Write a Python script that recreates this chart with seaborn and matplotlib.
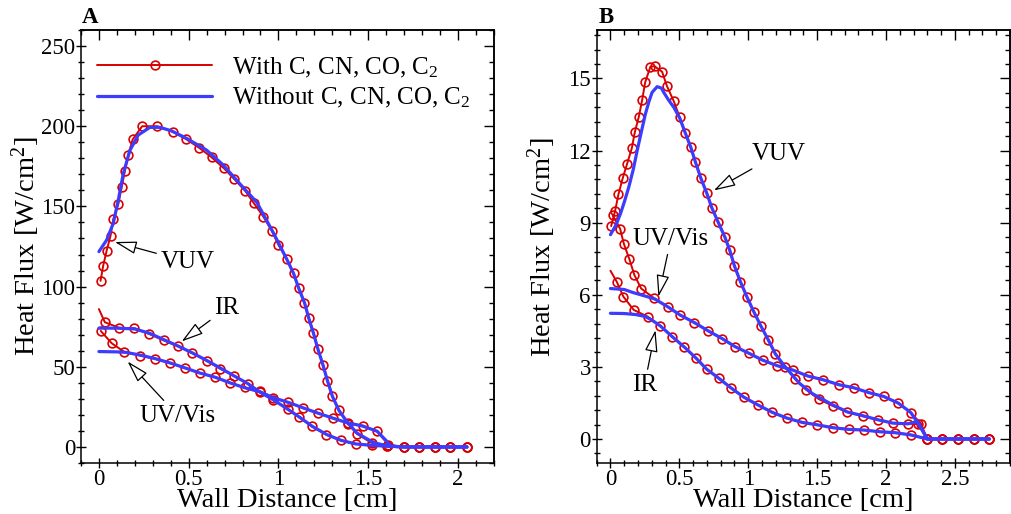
import numpy as np
import pandas as pd
import seaborn as sns
import matplotlib
matplotlib.use("Agg")
import matplotlib.pyplot as plt
from matplotlib.ticker import MultipleLocator, FuncFormatter
from matplotlib.lines import Line2D

# ---------------- data: panel A ----------------
A_vuv_with_x = [0.009, 0.024, 0.043, 0.065, 0.080, 0.108, 0.127, 0.145, 0.163, 0.188, 0.241, 0.325, 0.411,
                0.485, 0.558, 0.628, 0.697, 0.755, 0.814, 0.864, 0.916, 0.963, 1.000, 1.046, 1.084, 1.113,
                1.145, 1.169, 1.195, 1.220, 1.248, 1.273, 1.301, 1.337, 1.385, 1.440, 1.520, 1.604, 1.697,
                1.784, 1.870, 1.957, 2.050]
A_vuv_with_y = [103.6, 113.1, 122.4, 131.8, 142.0, 151.5, 161.9, 172.2, 182.0, 191.8, 200.0, 200.0, 196.5,
                192.0, 186.6, 180.6, 173.7, 166.9, 159.8, 151.9, 143.6, 134.9, 126.0, 117.2, 108.3, 99.0,
                90.0, 80.3, 71.0, 61.0, 51.2, 41.3, 31.5, 22.8, 14.5, 8.0, 2.5, 0.5, 0, 0, 0, 0, 0]
A_vuv_wo_x = [0.0, 0.043, 0.08, 0.108, 0.136, 0.173, 0.219, 0.284, 0.34, 0.405, 0.489, 0.60, 0.693, 0.786,
              0.88, 0.972, 1.046, 1.084, 1.113, 1.145, 1.169, 1.195, 1.22, 1.248, 1.273, 1.301, 1.337,
              1.381, 1.437, 1.53, 1.61, 1.70, 2.05]
A_vuv_wo_y = [121.8, 129.0, 139.5, 154.0, 170.6, 185.0, 194.5, 199.3, 199.3, 197.1, 192.4, 185.1, 175.8,
              164.0, 152.5, 133.5, 117.2, 108.3, 99.0, 90.0, 80.3, 71.0, 61.0, 51.2, 41.3, 31.5, 22.8,
              15.9, 8.7, 2.7, 0.6, 0.0, 0.0]

A_ir_with_x = [0.0, 0.033, 0.113, 0.197, 0.281, 0.362, 0.442, 0.52, 0.60, 0.675, 0.753, 0.829, 0.898, 0.972,
               1.052, 1.117, 1.186, 1.266, 1.348, 1.433, 1.521, 1.604, 1.697, 1.784, 1.870, 1.957, 2.050]
A_ir_with_y = [86.0, 77.8, 74.3, 74.1, 70.4, 66.4, 62.7, 58.5, 53.7, 48.8, 44.4, 39.4, 34.0, 29.5,
               23.7, 18.4, 12.8, 7.7, 4.1, 1.9, 1.0, 0.3, 0, 0, 0, 0, 0]
A_ir_wo_x = [0.0, 0.1, 0.2, 0.28, 0.36, 0.44, 0.52, 0.6, 0.68, 0.75, 0.83, 0.9, 0.97, 1.05, 1.12, 1.19,
             1.27, 1.35, 1.43, 1.52, 1.6, 1.7, 2.05]
A_ir_wo_y = [74.1, 74.1, 73.6, 71.0, 67.0, 63.0, 58.7, 54.0, 49.0, 44.5, 39.5, 34.0, 29.5, 23.7, 18.4, 12.8,
             7.7, 4.1, 1.9, 1.0, 0.5, 0.1, 0.0]

A_uv_with_x = [0.01, 0.071, 0.141, 0.229, 0.312, 0.396, 0.48, 0.563, 0.647, 0.731, 0.814, 0.898, 0.972,
               1.056, 1.136, 1.218, 1.303, 1.385, 1.471, 1.549, 1.613, 1.697, 1.784, 1.870, 1.957, 2.050]
A_uv_with_y = [72.4, 64.7, 59.3, 57.0, 55.0, 52.3, 49.2, 46.1, 43.6, 39.9, 37.1, 34.6, 30.5,
               27.8, 24.3, 21.2, 18.1, 15.0, 13.3, 9.7, 1.4, 0, 0, 0, 0, 0]
A_uv_wo_x = [0.0, 0.1, 0.15, 0.23, 0.31, 0.4, 0.48, 0.56, 0.65, 0.73, 0.81, 0.9, 0.97, 1.06, 1.14, 1.22,
             1.3, 1.38, 1.47, 1.55, 1.6, 1.625, 1.7, 2.05]
A_uv_wo_y = [59.5, 59.3, 59.0, 57.3, 55.2, 52.3, 49.3, 46.2, 43.4, 40.0, 37.0, 34.3, 30.8, 27.6, 24.3, 21.1,
             18.1, 15.2, 13.0, 9.8, 4.0, 0.5, 0.0, 0.0]

# ---------------- data: panel B ----------------
B_vuv_with_x = [0.005, 0.034, 0.058, 0.09, 0.121, 0.155, 0.177, 0.206, 0.23, 0.252, 0.29, 0.32, 0.375, 0.409,
                0.46, 0.503, 0.544, 0.583, 0.617, 0.655, 0.699, 0.735, 0.781, 0.83, 0.866, 0.90, 0.943, 0.99,
                1.04, 1.092, 1.146, 1.197, 1.27, 1.343, 1.42, 1.512, 1.612, 1.718, 1.83, 1.94, 2.05, 2.16,
                2.232, 2.298, 2.41, 2.525, 2.64, 2.75]
B_vuv_with_y = [8.86, 9.5, 10.18, 10.87, 11.45, 12.1, 12.77, 13.41, 14.1, 14.84, 15.49, 15.51, 15.28, 14.7,
                14.05, 13.38, 12.72, 12.14, 11.52, 10.87, 10.23, 9.63, 9.03, 8.41, 7.85, 7.2, 6.55, 5.92,
                5.30, 4.70, 4.12, 3.54, 2.99, 2.49, 2.05, 1.66, 1.38, 1.12, 0.95, 0.80, 0.66, 0.64,
                0.62, 0, 0, 0, 0, 0]
B_vuv_wo_x = [0.0, 0.04, 0.073, 0.1, 0.133, 0.165, 0.194, 0.225, 0.254, 0.28, 0.302, 0.339, 0.37, 0.387, 0.42,
              0.46, 0.503, 0.544, 0.583, 0.617, 0.655, 0.699, 0.735, 0.781, 0.83, 0.866, 0.9, 0.943, 0.99,
              1.04, 1.092, 1.146, 1.197, 1.263, 1.371, 1.468, 1.613, 1.722, 1.831, 1.94, 2.05, 2.16, 2.23,
              2.3, 2.75]
B_vuv_wo_y = [8.5, 8.9, 9.38, 9.85, 10.48, 11.2, 12.0, 12.8, 13.53, 14.05, 14.42, 14.66, 14.6, 14.42, 14.12,
              13.8, 13.35, 12.72, 12.14, 11.52, 10.87, 10.23, 9.63, 9.03, 8.41, 7.85, 7.2, 6.55, 5.92,
              5.3, 4.7, 4.12, 3.54, 3.04, 2.32, 1.88, 1.42, 1.12, 0.97, 0.80, 0.66, 0.63, 0.73,
              0.0, 0.0]

B_uv_with_x = [0.017, 0.07, 0.097, 0.138, 0.174, 0.223, 0.319, 0.416, 0.505, 0.61, 0.706, 0.81, 0.905, 1.004,
               1.105, 1.21, 1.323, 1.432, 1.546, 1.657, 1.766, 1.875, 1.983, 2.09, 2.18, 2.255, 2.298, 2.41,
               2.525, 2.64, 2.75]
B_uv_with_y = [9.3, 8.75, 8.13, 7.47, 6.82, 6.26, 5.85, 5.50, 5.16, 4.84, 4.51, 4.18, 3.84, 3.57,
               3.28, 3.05, 2.87, 2.62, 2.46, 2.26, 2.13, 1.93, 1.77, 1.49, 1.10, 0.63, 0, 0, 0, 0, 0]
B_uv_wo_x = [0.0, 0.1, 0.16, 0.25, 0.32, 0.416, 0.505, 0.61, 0.706, 0.81, 0.905, 1.004, 1.105, 1.21, 1.323,
             1.432, 1.546, 1.657, 1.766, 1.875, 1.983, 2.09, 2.18, 2.25, 2.3, 2.75]
B_uv_wo_y = [6.26, 6.22, 6.1, 5.95, 5.83, 5.5, 5.16, 4.84, 4.51, 4.18, 3.84, 3.57, 3.28, 3.05, 2.87,
             2.62, 2.46, 2.26, 2.13, 1.93, 1.77, 1.49, 1.1, 0.5, 0.0, 0.0]

B_ir_with_x = [0.0, 0.046, 0.094, 0.169, 0.271, 0.363, 0.448, 0.537, 0.622, 0.699, 0.786, 0.876, 0.968, 1.069,
               1.174, 1.28, 1.391, 1.50, 1.613, 1.729, 1.843, 1.957, 2.068, 2.18, 2.298, 2.41, 2.525, 2.64, 2.75]
B_ir_with_y = [7.0, 6.54, 5.92, 5.37, 5.09, 4.70, 4.26, 3.82, 3.36, 2.90, 2.53, 2.12, 1.74, 1.42,
               1.11, 0.87, 0.69, 0.59, 0.47, 0.40, 0.37, 0.30, 0.26, 0.17, 0, 0, 0, 0, 0]
B_ir_wo_x = [0.0, 0.1, 0.18, 0.25, 0.3, 0.363, 0.448, 0.537, 0.622, 0.699, 0.786, 0.876, 0.968, 1.069, 1.174,
             1.28, 1.391, 1.5, 1.613, 1.729, 1.843, 1.957, 2.068, 2.18, 2.3, 2.75]
B_ir_wo_y = [5.23, 5.22, 5.18, 5.1, 4.95, 4.70, 4.26, 3.82, 3.36, 2.90, 2.53, 2.12, 1.74, 1.42, 1.11,
             0.87, 0.69, 0.59, 0.47, 0.40, 0.37, 0.30, 0.26, 0.17, 0.0, 0.0]

legend_labels = ["With C, CN, CO, C$_2$", "Without C, CN, CO, C$_2$"]
xlabel = "Wall Distance [cm]"
ylabel = "Heat Flux [W/cm$^2$]"

# ---------------- style ----------------
sns.set_theme(style="white")
plt.rcParams["font.family"] = ["Liberation Serif", "DejaVu Serif"]
plt.rcParams["mathtext.fontset"] = "custom"
plt.rcParams["mathtext.rm"] = "Liberation Serif"
plt.rcParams["mathtext.it"] = "Liberation Serif:italic"
plt.rcParams["mathtext.bf"] = "Liberation Serif:bold"
plt.rcParams["axes.edgecolor"] = "black"
plt.rcParams["text.color"] = "black"
plt.rcParams["axes.labelcolor"] = "black"
plt.rcParams["xtick.color"] = "black"
plt.rcParams["ytick.color"] = "black"

RED = "#d80000"
BLUE = "#3c3cff"
RED_LW, BLUE_LW = 1.4, 2.3
MS, MEW = 6.3, 1.2

fig = plt.figure(figsize=(10.12, 5.14), dpi=100)
axA = fig.add_axes([0.080, 0.0992, 0.408, 0.8424])
axB = fig.add_axes([0.5896, 0.0992, 0.4084, 0.8416])

fmt = FuncFormatter(lambda v, p: f"{round(v, 6) + 0:g}")


def draw(ax, with_series, wo_series, xlim, ylim, xmaj, xmin, ymaj, ymin):
    for xs, ys, me in with_series:
        sns.lineplot(x=xs, y=ys, ax=ax, color=RED, linewidth=RED_LW, marker="o", markersize=MS,
                     markerfacecolor="none", markeredgecolor=RED, markeredgewidth=MEW,
                     markevery=me, sort=False, estimator=None, legend=False)
    for xs, ys in wo_series:
        sns.lineplot(x=xs, y=ys, ax=ax, color=BLUE, linewidth=BLUE_LW, sort=False,
                     estimator=None, legend=False)
    ax.set_xlim(*xlim)
    ax.set_ylim(*ylim)
    for axis, maj, mn in ((ax.xaxis, xmaj, xmin), (ax.yaxis, ymaj, ymin)):
        axis.set_major_locator(MultipleLocator(maj))
        axis.set_minor_locator(MultipleLocator(mn))
        axis.set_major_formatter(fmt)
    ax.tick_params(which="both", direction="inout", left=True, bottom=True, top=False, right=False,
                   labelsize=16.5, width=1.0, pad=1)
    ax.tick_params(which="major", length=6.5)
    ax.tick_params(which="minor", length=4.2)
    for s in ax.spines.values():
        s.set_linewidth(1.1)
        s.set_color("black")
    sx = ax.secondary_xaxis("top")
    sy = ax.secondary_yaxis("right")
    for sec, axis in ((sx, sx.xaxis), (sy, sy.yaxis)):
        axis.set_major_locator(MultipleLocator(xmaj if sec is sx else ymaj))
        axis.set_minor_locator(MultipleLocator(xmin if sec is sx else ymin))
        sec.tick_params(which="both", direction="in", width=1.0, labeltop=False, labelright=False,
                        top=True, right=True)
        sec.tick_params(which="major", length=7)
        sec.tick_params(which="minor", length=3.6)
        for s in sec.spines.values():
            s.set_linewidth(1.1)
            s.set_color("black")
    ax.set_xlabel(xlabel, fontsize=20.5)
    ax.set_ylabel(ylabel, fontsize=20.5)
    ax.xaxis.set_label_coords(0.5, -0.058)
    ax.yaxis.set_label_coords(-0.094, 0.5)


draw(axA,
     [(A_vuv_with_x, A_vuv_with_y, None), (A_ir_with_x, A_ir_with_y, slice(1, None)),
      (A_uv_with_x, A_uv_with_y, None)],
     [(A_vuv_wo_x, A_vuv_wo_y), (A_ir_wo_x, A_ir_wo_y), (A_uv_wo_x, A_uv_wo_y)],
     (-0.1, 2.2), (-10, 260), 0.5, 0.1, 50, 10)
draw(axB,
     [(B_vuv_with_x, B_vuv_with_y, None), (B_uv_with_x, B_uv_with_y, None),
      (B_ir_with_x, B_ir_with_y, slice(1, None))],
     [(B_vuv_wo_x, B_vuv_wo_y), (B_uv_wo_x, B_uv_wo_y), (B_ir_wo_x, B_ir_wo_y)],
     (-0.1, 2.9), (-1, 17), 0.5, 0.1, 3, 0.6)

# legend
handles = [Line2D([], [], color=RED, lw=RED_LW, marker="o", markersize=MS, markerfacecolor="none",
                  markeredgecolor=RED, markeredgewidth=MEW),
           Line2D([], [], color=BLUE, lw=BLUE_LW)]
axA.legend(handles, legend_labels, loc="upper left", bbox_to_anchor=(0.04, 0.941), frameon=False,
           fontsize=18, handlelength=4.6, handletextpad=0.8, labelspacing=0.25, borderpad=0,
           borderaxespad=0, numpoints=1)

# annotations
arrow = dict(arrowstyle="-|>,head_length=0.75,head_width=0.22", fc="white", ec="black", lw=0.9,
             shrinkA=1, shrinkB=0)
ANN = 18
axA.annotate("VUV", xy=(0.089, 127.8), xytext=(0.496, 115.4), fontsize=ANN, ha="center", va="center",
             arrowprops=arrow)
axA.annotate("IR", xy=(0.461, 65.8), xytext=(0.714, 86.8), fontsize=ANN, ha="center", va="center",
             arrowprops=arrow)
axA.annotate("UV/Vis", xy=(0.16, 53.3), xytext=(0.44, 19.5), fontsize=ANN, ha="center", va="center",
             arrowprops=arrow)
axB.annotate("VUV", xy=(0.75, 10.34), xytext=(1.219, 11.86), fontsize=ANN, ha="center", va="center",
             arrowprops=arrow)
axB.annotate("UV/Vis", xy=(0.348, 5.92), xytext=(0.439, 8.33), fontsize=ANN, ha="center", va="center",
             arrowprops=arrow)
axB.annotate("IR", xy=(0.327, 4.53), xytext=(0.247, 2.25), fontsize=ANN, ha="center", va="center",
             arrowprops=arrow)

fig.text(82 / 1012, 1 - 23 / 514, "A", fontsize=16.5, fontweight="bold", ha="left", va="baseline")
fig.text(599 / 1012, 1 - 23 / 514, "B", fontsize=16.5, fontweight="bold", ha="left", va="baseline")

fig.savefig("out.png", dpi=100)
